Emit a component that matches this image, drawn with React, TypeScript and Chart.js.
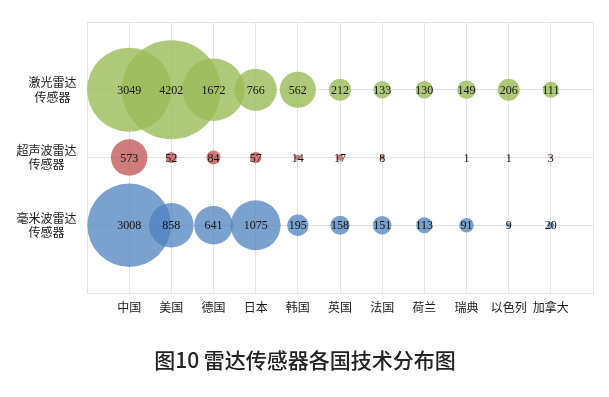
import React, { useEffect, useRef } from "react";
import { Chart, registerables } from "chart.js";

Chart.register(...registerables);

const countries = ["中国", "美国", "德国", "日本", "韩国", "英国", "法国", "荷兰", "瑞典", "以色列", "加拿大"];
const rowLabels = [["激光雷达", "传感器"], ["超声波雷达", "传感器"], ["毫米波雷达", "传感器"]];
const laserValues = [3049, 4202, 1672, 766, 562, 212, 133, 130, 149, 206, 111];
const ultrasonicValues: (number | null)[] = [573, 52, 84, 57, 14, 17, 8, null, 1, 1, 3];
const mmwaveValues = [3008, 858, 641, 1075, 195, 158, 151, 113, 91, 9, 20];
const rowPositions = [3, 2, 1];
const title = "图10 雷达传感器各国技术分布图";

const SCALE_K = 0.762; // px per sqrt(value)

function toPoints(values: (number | null)[], y: number) {
  const pts: { x: number; y: number; r: number; v: number }[] = [];
  values.forEach((v, i) => {
    if (v === null) return;
    pts.push({ x: i + 1, y, r: SCALE_K * Math.sqrt(v), v });
  });
  return pts;
}

const labelPlugin = {
  id: "valueLabels",
  afterDatasetsDraw(chart: any) {
    const ctx = chart.ctx;
    ctx.save();
    ctx.font = '12px "Liberation Serif", "Times New Roman", serif';
    ctx.fillStyle = "#111";
    ctx.textAlign = "center";
    ctx.textBaseline = "middle";
    chart.data.datasets.forEach((ds: any, di: number) => {
      const meta = chart.getDatasetMeta(di);
      meta.data.forEach((el: any, i: number) => {
        ctx.fillText(String(ds.data[i].v), el.x, el.y + 1);
      });
    });
    ctx.restore();
  },
  afterDraw(chart: any) {
    const ctx = chart.ctx;
    const yScale = chart.scales.y;
    ctx.save();
    ctx.font = '12px "Noto Sans CJK SC", sans-serif';
    ctx.fillStyle = "#1a1a1a";
    ctx.textAlign = "center";
    ctx.textBaseline = "middle";
    rowLabels.forEach((lines, idx) => {
      const yc = yScale.getPixelForValue(rowPositions[idx]);
      const widest = Math.max(...lines.map((l) => ctx.measureText(l).width));
      const cx = 76.5 - widest / 2;
      const lh = 14.5;
      lines.forEach((l, li) => {
        ctx.fillText(l, cx, yc + (li - (lines.length - 1) / 2) * lh);
      });
    });
    ctx.font = '500 21px "Noto Sans CJK SC", sans-serif';
    ctx.fillStyle = "#222";
    ctx.fillText(title, 305, 360);
    ctx.restore();
  },
};

export default function App() {
  const ref = useRef<HTMLCanvasElement>(null);
  useEffect(() => {
    document.body.style.margin = "0";
    const chart = new Chart(ref.current!, {
      type: "bubble",
      data: {
        datasets: [
          {
            label: "激光雷达传感器",
            data: toPoints(laserValues, rowPositions[0]),
            backgroundColor: "rgba(155,187,89,0.8)",
            borderWidth: 0,
          },
          {
            label: "超声波雷达传感器",
            data: toPoints(ultrasonicValues, rowPositions[1]),
            backgroundColor: "rgba(192,80,77,0.75)",
            borderWidth: 0,
          },
          {
            label: "毫米波雷达传感器",
            data: toPoints(mmwaveValues, rowPositions[2]),
            backgroundColor: "rgba(79,129,189,0.75)",
            borderWidth: 0,
          },
        ],
      } as any,
      options: {
        animation: false,
        responsive: false,
        layout: { autoPadding: false, padding: { top: 22, right: 16, left: 0, bottom: 0 } },
        plugins: { legend: { display: false }, tooltip: { enabled: false } },
        scales: {
          x: {
            type: "linear",
            min: 0,
            max: 12,
            afterFit: (s: any) => { s.height = 104; s.paddingLeft = 0; s.paddingRight = 0; },
            grid: { color: "#e4e4e4", drawTicks: false },
            border: { color: "#e4e4e4" },
            ticks: {
              stepSize: 1,
              padding: 7,
              color: "#1a1a1a",
              font: { family: '"Noto Sans CJK SC", sans-serif', size: 12 },
              callback: (v: any) => (v >= 1 && v <= 11 ? countries[v - 1] : ""),
              maxRotation: 0,
              autoSkip: false,
            },
          },
          y: {
            type: "linear",
            min: 0,
            max: 4,
            afterFit: (s: any) => { s.width = 87; s.paddingTop = 0; s.paddingBottom = 0; },
            grid: { color: "#e4e4e4", drawTicks: false },
            border: { color: "#e4e4e4" },
            ticks: { stepSize: 1, display: false },
          },
        },
      } as any,
      plugins: [labelPlugin],
    });
    return () => chart.destroy();
  }, []);
  return (
    <div style={{ width: 609, height: 397, background: "#fff" }}>
      <canvas ref={ref} width={609} height={397} style={{ display: "block" }} />
    </div>
  );
}
